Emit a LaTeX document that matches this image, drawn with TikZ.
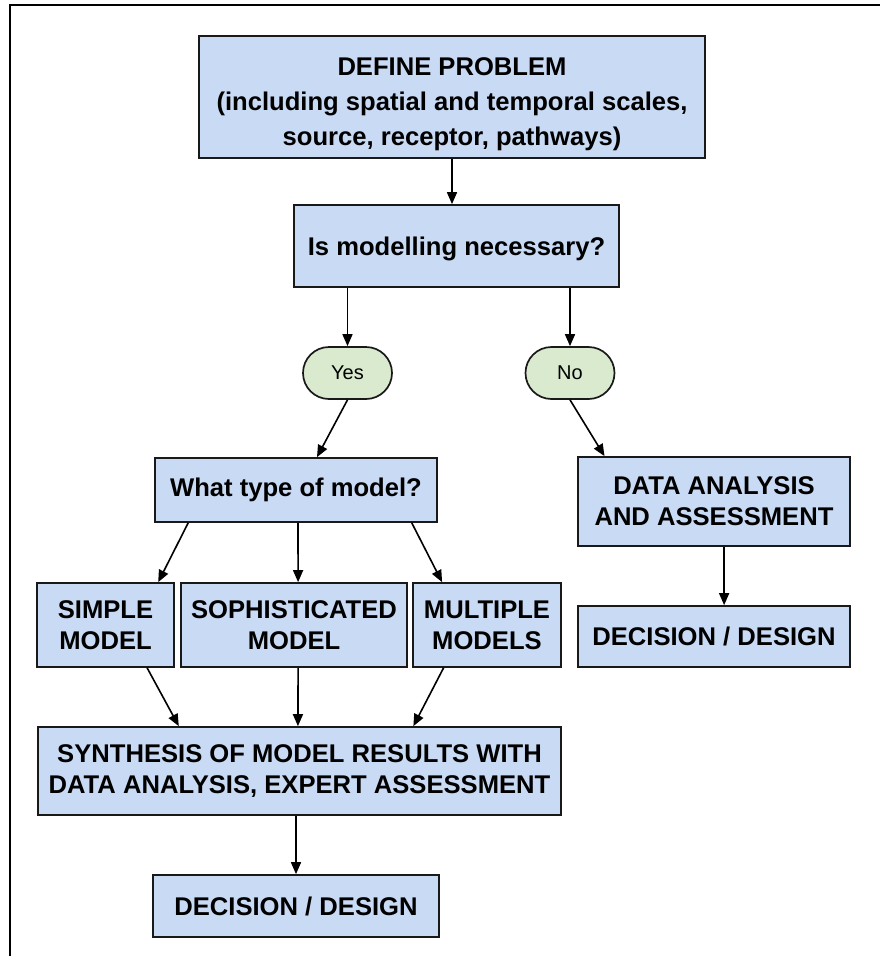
\documentclass[tikz,border=0pt]{standalone}
\usepackage{fontspec}
\setmainfont{Liberation Sans}
\usepackage{xcolor}
\usetikzlibrary{arrows.meta, positioning, calc}

\definecolor{boxblue}{RGB}{201,218,244}
\definecolor{pillgreen}{RGB}{217,234,207}

\begin{document}
\begin{tikzpicture}[x=1pt, y=-1pt,
            node_style/.style={rectangle, draw=black!90, line width=1.7pt, fill=boxblue, inner sep=0pt, align=center, font=\fontsize{25.6}{31}\selectfont\bfseries},
            answer/.style={rectangle, rounded corners=26pt, draw=black!90, line width=1.7pt, fill=pillgreen, inner sep=0pt, minimum width=89pt, minimum height=52pt, font=\fontsize{20}{24}\selectfont},
            arrow/.style={-{Triangle[length=12pt, width=10pt]}, line width=1.6pt}
        ]
\useasboundingbox (0,0) rectangle (880,956);
\draw[line width=1.7pt] (10,956) -- (10,5) -- (880,5);

% Question part
            \node[node_style, minimum width=506pt, minimum height=122pt, font=\fontsize{25.6}{35}\selectfont\bfseries] (define) at (452,97) {\rule{0pt}{32pt}DEFINE PROBLEM\\(including spatial and temporal scales,\\source, receptor, pathways)};
            \node[node_style, minimum width=325pt, minimum height=82pt] (necessary) at (456.5,246) {\rule{0pt}{24pt}Is modelling necessary?};
            \node[answer] (yes) at (347.5,373) {Yes};
            \node[answer] (no) at (570,373) {No};

% Model branch
            \node[node_style, minimum width=282pt, minimum height=64pt] (modeltype) at (296,490) {What type of model?};
            \node[node_style, minimum width=137pt, minimum height=84pt] (simple) at (105.5,625) {SIMPLE\\MODEL};
            \node[node_style, minimum width=226pt, minimum height=84pt] (sophisticated) at (294,625) {SOPHISTICATED\\MODEL};
            \node[node_style, minimum width=148pt, minimum height=84pt] (multiple) at (487,625) {MULTIPLE\\MODELS};
            \node[node_style, minimum width=523pt, minimum height=88pt] (synthesis) at (299.5,771) {SYNTHESIS OF MODEL RESULTS WITH\\DATA ANALYSIS, EXPERT ASSESSMENT};
            \node[node_style, minimum width=286pt, minimum height=62pt] (decision_m) at (296,906) {DECISION / DESIGN};

% Data branch
            \node[node_style, minimum width=272pt, minimum height=89pt] (data) at (714,501.5) {DATA ANALYSIS\\AND ASSESSMENT};
            \node[node_style, minimum width=272pt, minimum height=61pt] (decision_d) at (714,636.5) {DECISION / DESIGN};

% Connections
            \draw[arrow] (define.south) -- (define.south |- necessary.north);
            \draw[arrow] (yes.north |- necessary.south) -- (yes.north);
            \draw[arrow] (no.north |- necessary.south) -- (no.north);
            \draw[arrow] (yes.south) -- ($(modeltype.north west)!0.574!(modeltype.north east)$);
            \draw[arrow] (no.south) -- ($(data.north west)!0.1!(data.north east)$);
            \draw[arrow] ($(modeltype.south west)!0.12!(modeltype.south east)$) -- ($(simple.north west)!0.88!(simple.north east)$);
            \draw[arrow] ($(modeltype.south west)!0.507!(modeltype.south east)$) -- ($(sophisticated.north west)!0.518!(sophisticated.north east)$);
            \draw[arrow] ($(modeltype.south west)!0.908!(modeltype.south east)$) -- ($(multiple.north west)!0.2!(multiple.north east)$);
            \draw[arrow] ($(simple.south west)!0.8!(simple.south east)$) -- ($(synthesis.north west)!0.27!(synthesis.north east)$);
            \draw[arrow] ($(sophisticated.south west)!0.518!(sophisticated.south east)$) -- ($(synthesis.north west)!0.497!(synthesis.north east)$);
            \draw[arrow] ($(multiple.south west)!0.21!(multiple.south east)$) -- ($(synthesis.north west)!0.717!(synthesis.north east)$);
            \draw[arrow] (decision_m.north |- synthesis.south) -- (decision_m.north);
            \draw[arrow] ($(data.south west)!0.537!(data.south east)$) -- ($(decision_d.north west)!0.537!(decision_d.north east)$);

        \end{tikzpicture}
\end{document}
